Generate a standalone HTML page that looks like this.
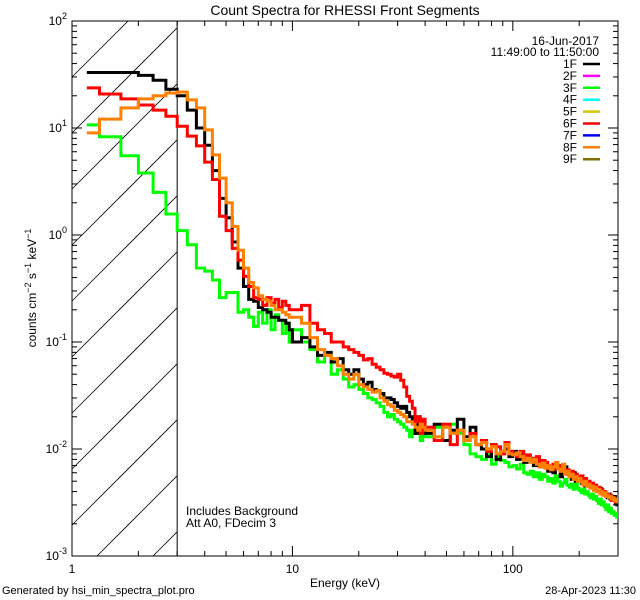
<!DOCTYPE html>
<html><head><meta charset="utf-8"><style>
html,body{margin:0;padding:0;background:#fff;width:640px;height:600px;overflow:hidden;}
svg{display:block;font-family:"Liberation Sans",sans-serif;}
</style></head><body>
<svg id="chart" width="640" height="600" viewBox="0 0 640 600">
<defs id="defs"></defs>
<text x="345" y="15" font-size="14" text-anchor="middle">Count Spectra for RHESSI Front Segments</text>
<g id="hatch"></g>
<g id="axes"></g>
<g id="series"></g>
<g id="legend"></g>
<text x="0" y="0" font-size="12" text-anchor="middle" transform="translate(36,288) rotate(-90)">counts cm<tspan dy="-5" font-size="9">−2</tspan><tspan dy="5"> s</tspan><tspan dy="-5" font-size="9">−1</tspan><tspan dy="5"> keV</tspan><tspan dy="-5" font-size="9">−1</tspan></text>
<text x="345" y="587" font-size="12" text-anchor="middle">Energy (keV)</text>
<text x="186" y="515" font-size="12">Includes Background</text>
<text x="186" y="527" font-size="12">Att A0, FDecim 3</text>
<text x="2" y="594" font-size="11">Generated by hsi_min_spectra_plot.pro</text>
<text x="636" y="594" font-size="11" text-anchor="end">28-Apr-2023 11:30</text>
</svg>
<script>
// ---- data ----
const black = [33,33,33,31,28,23,20,14.7,10,6.9,4.0,2.2,1.45,0.86,0.49,0.33,0.25,0.24,0.21,0.2,0.19,0.17,0.17,0.16,0.16,0.15,0.13,
0.1,0.11,0.09,0.075,0.08,0.065,0.07,0.055,0.05,0.055,0.045,0.04,0.042,0.036,0.035,0.033,0.03,0.03,0.029,0.027,0.025,0.024,0.025,0.022,0.02,0.018,0.014,0.02,0.017,0.015,
0.014,0.017,0.012,0.015,0.019,0.013,0.016,0.011,0.01,0.0085,0.011,0.008,0.0095,0.01,0.0085,0.0095,0.008,0.009,0.0075,0.0085,0.0078,0.007,0.0082,0.0068,0.0075,0.007,0.0062,0.0068,0.006,0.0072,0.0065,0.0055,0.006,0.0068,0.0058,0.0056,0.0052,0.006,0.005,0.0054,0.0052,0.0048,0.005,0.0045,0.0049,0.0046,0.0044,0.0047,0.0042,0.0043,0.0042,0.004,0.0043,0.0038,0.004,0.0039,0.0037,0.0035,0.0038,0.0034,0.0035,0.0033,0.0036,0.0031,0.003];
const green = [10.7,8.3,5.5,3.8,2.5,1.57,1.1,0.81,0.49,0.46,0.38,0.26,0.29,0.29,0.19,0.2,0.17,0.14,0.19,0.15,0.2,0.13,0.18,0.16,0.12,0.15,0.1,
0.13,0.1,0.085,0.065,0.075,0.05,0.055,0.045,0.038,0.04,0.036,0.033,0.03,0.029,0.027,0.025,0.022,0.02,0.021,0.019,0.018,0.017,0.016,0.015,0.013,0.015,0.014,0.016,0.012,0.014,
0.013,0.016,0.012,0.017,0.014,0.011,0.009,0.0085,0.008,0.009,0.0072,0.0085,0.0078,0.0075,0.0068,0.007,0.0065,0.0072,0.006,0.0058,0.0062,0.0055,0.006,0.0052,0.0058,0.0055,0.005,0.0053,0.0048,0.0056,0.005,0.0045,0.0048,0.0052,0.0046,0.0044,0.0047,0.0042,0.0048,0.0043,0.0041,0.0039,0.0042,0.0038,0.004,0.0037,0.0035,0.0038,0.0034,0.0036,0.0033,0.0031,0.0034,0.003,0.0032,0.0029,0.0027,0.003,0.0026,0.0028,0.0025,0.0026,0.0024,0.0025,0.0023];
const red = [23.7,20.8,18.7,16.4,14.7,12.9,10.4,8.4,6.8,4.8,3.3,1.5,1.1,0.75,0.58,0.41,0.33,0.26,0.25,0.22,0.26,0.23,0.25,0.21,0.24,0.22,0.2,
0.2,0.22,0.15,0.13,0.12,0.1,0.1,0.09,0.085,0.08,0.075,0.068,0.07,0.062,0.058,0.055,0.051,0.05,0.048,0.047,0.05,0.044,0.038,0.031,0.028,0.024,0.018,0.02,0.014,0.019,
0.016,0.012,0.017,0.011,0.015,0.012,0.014,0.011,0.012,0.0095,0.011,0.0105,0.009,0.0115,0.0095,0.009,0.0085,0.0095,0.008,0.0088,0.0082,0.0078,0.0085,0.0072,0.0078,0.0075,0.007,0.0068,0.0072,0.0065,0.007,0.0062,0.0066,0.006,0.0064,0.0058,0.0062,0.0056,0.0058,0.0055,0.0052,0.0056,0.005,0.0053,0.0048,0.005,0.0046,0.0048,0.0044,0.0046,0.0042,0.0044,0.004,0.0042,0.0038,0.004,0.0036,0.0038,0.0035,0.0037,0.0033,0.0035,0.0034,0.0032];
const orange = [9.0,12.1,15.4,18.7,20,21.2,21.7,18.3,15.4,9.6,5.6,3.4,2.0,1.2,0.72,0.49,0.36,0.32,0.27,0.25,0.24,0.22,0.2,0.2,0.19,0.18,0.17,
0.17,0.15,0.11,0.085,0.075,0.07,0.06,0.05,0.045,0.05,0.04,0.038,0.036,0.034,0.035,0.03,0.028,0.026,0.025,0.023,0.022,0.021,0.02,0.018,0.018,0.017,0.016,0.015,0.017,0.016,
0.015,0.013,0.016,0.014,0.015,0.012,0.013,0.011,0.0115,0.01,0.0105,0.009,0.0095,0.011,0.009,0.0088,0.0092,0.0085,0.0078,0.0082,0.0075,0.008,0.0072,0.0068,0.0074,0.0066,0.007,0.0064,0.0068,0.0075,0.0065,0.0062,0.0072,0.0058,0.0062,0.0055,0.0058,0.0052,0.0055,0.005,0.0053,0.0049,0.0046,0.005,0.0045,0.0047,0.0043,0.0045,0.0041,0.0044,0.004,0.0042,0.0038,0.004,0.0037,0.0039,0.0036,0.0037,0.0035,0.0036,0.0034,0.0035,0.0033,0.0034,0.0032];
const xTickMajor = [1,10,100];
const xTickLabels = ["1","10","100"];
const yTickExp = [-3,-2,-1,0,1,2];
const legendLabels = ["1F","2F","3F","4F","5F","6F","7F","8F","9F"];
const legendColors = ["#000000","#ff00ff","#00ff00","#00ffff","#d4c800","#ff0000","#0000ff","#ff8000","#7f7000"];
const hatchLimit = 3;

// ---- geometry ----
const L=72,R=618,T=21,B=556, XMIN=1, XMAX=300, YMIN=-3, YMAX=2;
const NS="http://www.w3.org/2000/svg";
function xs(e){return L+(Math.log10(e)-Math.log10(XMIN))/(Math.log10(XMAX)-Math.log10(XMIN))*(R-L);}
function ys(v){return B-(Math.log10(v)-YMIN)/(YMAX-YMIN)*(B-T);}
function mk(tag,attrs,parent){const el=document.createElementNS(NS,tag);for(const k in attrs)el.setAttribute(k,attrs[k]);parent.appendChild(el);return el;}

const edges=[1.1667];
for(let k=4;k<=30;k++)edges.push(k/3);
for(let e=11;e<=40;e++)edges.push(e);
for(let e=44;e<=300;e+=4)edges.push(e);

const defs=document.getElementById('defs');
const axes=document.getElementById('axes');
// hatch: 45-degree lines y = c - x, clipped manually to [L,HX]x[T,B]
const hatch=document.getElementById('hatch');
const HX=xs(hatchLimit);
for(let c=T+L-560;c<B+HX+60;c+=56){
  let x1=Math.max(L,c-B), x2=Math.min(HX,c-T);
  if(x2<=x1)continue;
  const ln=mk('line',{x1:x1,y1:c-x1,x2:x2,y2:c-x2,stroke:'#000','stroke-width':0.8},hatch);
  
  
}
const vl=mk('line',{x1:HX,y1:T,x2:HX,y2:B,stroke:'#000','stroke-width':1},hatch);



const fr=mk('rect',{x:L,y:T,width:R-L,height:B-T,fill:'none',stroke:'#000','stroke-width':1},axes);


for(let d=0;d<3;d++){for(let m=1;m<=9;m++){const e=Math.pow(10,d)*m;if(e>XMAX)break;const x=xs(e);const len=m===1?10:5;
  const t1=mk('line',{x1:x,y1:B,x2:x,y2:B-len,stroke:'#000'},axes);
  
  
  const t2=mk('line',{x1:x,y1:T,x2:x,y2:T+len,stroke:'#000'},axes);
  
  
}}
xTickMajor.forEach((e,i)=>{const t=mk('text',{x:xs(e),y:B+17,'font-size':12,'text-anchor':'middle'},axes);t.textContent=xTickLabels[i];
  
  });
for(let d=YMIN;d<YMAX;d++){for(let m=1;m<=9;m++){const y=ys(Math.pow(10,d)*m);const len=m===1?10:5;
  const a=mk('line',{x1:L,y1:y,x2:L+len,y2:y,stroke:'#000'},axes);
  
  
  const b=mk('line',{x1:R,y1:y,x2:R-len,y2:y,stroke:'#000'},axes);
  
  
}}
yTickExp.forEach(p=>{const y=ys(Math.pow(10,p));const t=mk('text',{x:L-5,y:y+4,'font-size':12,'text-anchor':'end'},axes);
  t.innerHTML='10<tspan dy="-6" font-size="9">'+p+'</tspan>';
  
  });

const sg=document.getElementById('series');
const cs=mk('clipPath',{id:'pc'},defs);
mk('rect',{x:L,y:T,width:R-L,height:B-T},cs);
sg.setAttribute('clip-path','url(#pc)');
function drawSeries(vals,color,name){
  let d='';
  for(let i=0;i<vals.length&&i+1<edges.length;i++){const y=ys(vals[i]);const x0=xs(edges[i]),x1=Math.min(R,xs(edges[i+1]));
    d+=(i===0?'M':'L')+x0.toFixed(1)+','+y.toFixed(1)+'L'+x1.toFixed(1)+','+y.toFixed(1);}
  const p=mk('path',{d:d,fill:'none',stroke:color,'stroke-width':3,'stroke-linejoin':'miter'},sg);
  
  
}
drawSeries(green,'#00ff00','series-3f');
drawSeries(black,'#000000','series-1f');
drawSeries(red,'#ff0000','series-6f');
drawSeries(orange,'#ff8000','series-8f');

const lg=document.getElementById('legend');
const d1=mk('text',{x:599,y:45,'font-size':12,'text-anchor':'end'},lg);d1.textContent='16-Jun-2017';


const d2=mk('text',{x:599,y:56,'font-size':12,'text-anchor':'end'},lg);d2.textContent='11:49:00 to 11:50:00';


legendLabels.forEach((lab,i)=>{const y=64+i*11.9;
  const t=mk('text',{x:577,y:y+4,'font-size':12,'text-anchor':'end'},lg);t.textContent=lab;
  
  
  const l=mk('line',{x1:583,y1:y,x2:600,y2:y,stroke:legendColors[i],'stroke-width':2.5},lg);
  
  });
</script>
</body></html>
